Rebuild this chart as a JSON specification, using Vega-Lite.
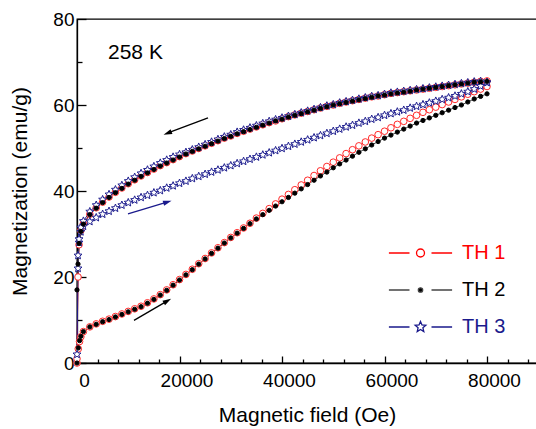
{
"$schema": "https://vega.github.io/schema/vega-lite/v6.json",
"width": 460, "height": 344,
"autosize": "none",
"padding": {"left": 77, "top": 19, "right": 0, "bottom": 66},
"config": {"view": {"stroke": "#000", "strokeWidth": 1.3}, "font": "Liberation Sans"},
"datasets": {
"pts": [
{"s":"TH 1","b":"a","h":0,"m":0},{"s":"TH 1","b":"a","h":250,"m":3.3},{"s":"TH 1","b":"a","h":500,"m":5.0},{"s":"TH 1","b":"a","h":750,"m":6.1},{"s":"TH 1","b":"a","h":1250,"m":7.3},{"s":"TH 1","b":"a","h":2500,"m":8.4},{"s":"TH 1","b":"a","h":3750,"m":9.1},{"s":"TH 1","b":"a","h":5000,"m":9.7},{"s":"TH 1","b":"a","h":6250,"m":10.2},{"s":"TH 1","b":"a","h":7500,"m":10.8},{"s":"TH 1","b":"a","h":8750,"m":11.4},{"s":"TH 1","b":"a","h":10000,"m":12.0},{"s":"TH 1","b":"a","h":11250,"m":12.6},{"s":"TH 1","b":"a","h":12500,"m":13.2},{"s":"TH 1","b":"a","h":13750,"m":14.0},{"s":"TH 1","b":"a","h":15000,"m":14.9},{"s":"TH 1","b":"a","h":16250,"m":15.9},{"s":"TH 1","b":"a","h":17500,"m":17.0},{"s":"TH 1","b":"a","h":18750,"m":18.2},{"s":"TH 1","b":"a","h":20000,"m":19.4},{"s":"TH 1","b":"a","h":21250,"m":20.6},{"s":"TH 1","b":"a","h":22500,"m":21.8},{"s":"TH 1","b":"a","h":23750,"m":23.1},{"s":"TH 1","b":"a","h":25000,"m":24.3},{"s":"TH 1","b":"a","h":26250,"m":25.6},{"s":"TH 1","b":"a","h":27500,"m":26.8},{"s":"TH 1","b":"a","h":28750,"m":28.0},{"s":"TH 1","b":"a","h":30000,"m":29.2},{"s":"TH 1","b":"a","h":31250,"m":30.3},{"s":"TH 1","b":"a","h":32500,"m":31.4},{"s":"TH 1","b":"a","h":33750,"m":32.5},{"s":"TH 1","b":"a","h":35000,"m":33.7},{"s":"TH 1","b":"a","h":36250,"m":34.8},{"s":"TH 1","b":"a","h":37500,"m":35.9},{"s":"TH 1","b":"a","h":38750,"m":37.0},{"s":"TH 1","b":"a","h":40000,"m":38.1},{"s":"TH 1","b":"a","h":41250,"m":39.2},{"s":"TH 1","b":"a","h":42500,"m":40.3},{"s":"TH 1","b":"a","h":43750,"m":41.4},{"s":"TH 1","b":"a","h":45000,"m":42.5},{"s":"TH 1","b":"a","h":46250,"m":43.6},{"s":"TH 1","b":"a","h":47500,"m":44.7},{"s":"TH 1","b":"a","h":48750,"m":45.7},{"s":"TH 1","b":"a","h":50000,"m":46.7},{"s":"TH 1","b":"a","h":51250,"m":47.7},{"s":"TH 1","b":"a","h":52500,"m":48.7},{"s":"TH 1","b":"a","h":53750,"m":49.6},{"s":"TH 1","b":"a","h":55000,"m":50.5},{"s":"TH 1","b":"a","h":56250,"m":51.4},{"s":"TH 1","b":"a","h":57500,"m":52.3},{"s":"TH 1","b":"a","h":58750,"m":53.1},{"s":"TH 1","b":"a","h":60000,"m":53.9},{"s":"TH 1","b":"a","h":61250,"m":54.7},{"s":"TH 1","b":"a","h":62500,"m":55.5},{"s":"TH 1","b":"a","h":63750,"m":56.2},{"s":"TH 1","b":"a","h":65000,"m":56.9},{"s":"TH 1","b":"a","h":66250,"m":57.6},{"s":"TH 1","b":"a","h":67500,"m":58.3},{"s":"TH 1","b":"a","h":68750,"m":58.9},{"s":"TH 1","b":"a","h":70000,"m":59.5},{"s":"TH 1","b":"a","h":71250,"m":60.1},{"s":"TH 1","b":"a","h":72500,"m":60.7},{"s":"TH 1","b":"a","h":73750,"m":61.3},{"s":"TH 1","b":"a","h":75000,"m":61.9},{"s":"TH 1","b":"a","h":76250,"m":62.5},{"s":"TH 1","b":"a","h":77500,"m":63.1},{"s":"TH 1","b":"a","h":78750,"m":63.7},{"s":"TH 1","b":"a","h":80000,"m":64.3},
{"s":"TH 1","b":"d","h":80000,"m":65.6},{"s":"TH 1","b":"d","h":78750,"m":65.5},{"s":"TH 1","b":"d","h":77500,"m":65.3},{"s":"TH 1","b":"d","h":76250,"m":65.1},{"s":"TH 1","b":"d","h":75000,"m":64.9},{"s":"TH 1","b":"d","h":73750,"m":64.7},{"s":"TH 1","b":"d","h":72500,"m":64.5},{"s":"TH 1","b":"d","h":71250,"m":64.3},{"s":"TH 1","b":"d","h":70000,"m":64.1},{"s":"TH 1","b":"d","h":68750,"m":63.9},{"s":"TH 1","b":"d","h":67500,"m":63.7},{"s":"TH 1","b":"d","h":66250,"m":63.5},{"s":"TH 1","b":"d","h":65000,"m":63.3},{"s":"TH 1","b":"d","h":63750,"m":63.1},{"s":"TH 1","b":"d","h":62500,"m":62.9},{"s":"TH 1","b":"d","h":61250,"m":62.7},{"s":"TH 1","b":"d","h":60000,"m":62.4},{"s":"TH 1","b":"d","h":58750,"m":62.1},{"s":"TH 1","b":"d","h":57500,"m":61.9},{"s":"TH 1","b":"d","h":56250,"m":61.6},{"s":"TH 1","b":"d","h":55000,"m":61.3},{"s":"TH 1","b":"d","h":53750,"m":61.0},{"s":"TH 1","b":"d","h":52500,"m":60.7},{"s":"TH 1","b":"d","h":51250,"m":60.4},{"s":"TH 1","b":"d","h":50000,"m":60.0},{"s":"TH 1","b":"d","h":48750,"m":59.7},{"s":"TH 1","b":"d","h":47500,"m":59.3},{"s":"TH 1","b":"d","h":46250,"m":58.9},{"s":"TH 1","b":"d","h":45000,"m":58.5},{"s":"TH 1","b":"d","h":43750,"m":58.1},{"s":"TH 1","b":"d","h":42500,"m":57.7},{"s":"TH 1","b":"d","h":41250,"m":57.3},{"s":"TH 1","b":"d","h":40000,"m":56.8},{"s":"TH 1","b":"d","h":38750,"m":56.3},{"s":"TH 1","b":"d","h":37500,"m":55.9},{"s":"TH 1","b":"d","h":36250,"m":55.4},{"s":"TH 1","b":"d","h":35000,"m":54.9},{"s":"TH 1","b":"d","h":33750,"m":54.4},{"s":"TH 1","b":"d","h":32500,"m":53.9},{"s":"TH 1","b":"d","h":31250,"m":53.4},{"s":"TH 1","b":"d","h":30000,"m":52.8},{"s":"TH 1","b":"d","h":28750,"m":52.3},{"s":"TH 1","b":"d","h":27500,"m":51.7},{"s":"TH 1","b":"d","h":26250,"m":51.1},{"s":"TH 1","b":"d","h":25000,"m":50.5},{"s":"TH 1","b":"d","h":23750,"m":49.9},{"s":"TH 1","b":"d","h":22500,"m":49.3},{"s":"TH 1","b":"d","h":21250,"m":48.7},{"s":"TH 1","b":"d","h":20000,"m":48.0},{"s":"TH 1","b":"d","h":18750,"m":47.3},{"s":"TH 1","b":"d","h":17500,"m":46.6},{"s":"TH 1","b":"d","h":16250,"m":45.9},{"s":"TH 1","b":"d","h":15000,"m":45.1},{"s":"TH 1","b":"d","h":13750,"m":44.3},{"s":"TH 1","b":"d","h":12500,"m":43.5},{"s":"TH 1","b":"d","h":11250,"m":42.6},{"s":"TH 1","b":"d","h":10000,"m":41.7},{"s":"TH 1","b":"d","h":8750,"m":40.7},{"s":"TH 1","b":"d","h":7500,"m":39.7},{"s":"TH 1","b":"d","h":6250,"m":38.6},{"s":"TH 1","b":"d","h":5000,"m":37.4},{"s":"TH 1","b":"d","h":3750,"m":36.1},{"s":"TH 1","b":"d","h":2500,"m":34.6},{"s":"TH 1","b":"d","h":1250,"m":32.4},{"s":"TH 1","b":"d","h":750,"m":30.8},{"s":"TH 1","b":"d","h":400,"m":27.5},{"s":"TH 1","b":"d","h":200,"m":20},{"s":"TH 1","b":"d","h":0,"m":1},
{"s":"TH 3","b":"a","h":0,"m":2},{"s":"TH 3","b":"a","h":200,"m":22},{"s":"TH 3","b":"a","h":400,"m":28},{"s":"TH 3","b":"a","h":750,"m":30.5},{"s":"TH 3","b":"a","h":1250,"m":31.8},{"s":"TH 3","b":"a","h":2500,"m":32.9},{"s":"TH 3","b":"a","h":3750,"m":33.8},{"s":"TH 3","b":"a","h":5000,"m":34.6},{"s":"TH 3","b":"a","h":6250,"m":35.3},{"s":"TH 3","b":"a","h":7500,"m":36.0},{"s":"TH 3","b":"a","h":8750,"m":36.7},{"s":"TH 3","b":"a","h":10000,"m":37.3},{"s":"TH 3","b":"a","h":11250,"m":37.9},{"s":"TH 3","b":"a","h":12500,"m":38.5},{"s":"TH 3","b":"a","h":13750,"m":39.0},{"s":"TH 3","b":"a","h":15000,"m":39.6},{"s":"TH 3","b":"a","h":16250,"m":40.1},{"s":"TH 3","b":"a","h":17500,"m":40.7},{"s":"TH 3","b":"a","h":18750,"m":41.2},{"s":"TH 3","b":"a","h":20000,"m":41.8},{"s":"TH 3","b":"a","h":21250,"m":42.3},{"s":"TH 3","b":"a","h":22500,"m":42.9},{"s":"TH 3","b":"a","h":23750,"m":43.4},{"s":"TH 3","b":"a","h":25000,"m":43.9},{"s":"TH 3","b":"a","h":26250,"m":44.4},{"s":"TH 3","b":"a","h":27500,"m":44.9},{"s":"TH 3","b":"a","h":28750,"m":45.4},{"s":"TH 3","b":"a","h":30000,"m":45.9},{"s":"TH 3","b":"a","h":31250,"m":46.4},{"s":"TH 3","b":"a","h":32500,"m":46.9},{"s":"TH 3","b":"a","h":33750,"m":47.4},{"s":"TH 3","b":"a","h":35000,"m":47.9},{"s":"TH 3","b":"a","h":36250,"m":48.4},{"s":"TH 3","b":"a","h":37500,"m":48.9},{"s":"TH 3","b":"a","h":38750,"m":49.4},{"s":"TH 3","b":"a","h":40000,"m":49.9},{"s":"TH 3","b":"a","h":41250,"m":50.4},{"s":"TH 3","b":"a","h":42500,"m":50.9},{"s":"TH 3","b":"a","h":43750,"m":51.4},{"s":"TH 3","b":"a","h":45000,"m":51.9},{"s":"TH 3","b":"a","h":46250,"m":52.4},{"s":"TH 3","b":"a","h":47500,"m":52.9},{"s":"TH 3","b":"a","h":48750,"m":53.4},{"s":"TH 3","b":"a","h":50000,"m":53.9},{"s":"TH 3","b":"a","h":51250,"m":54.4},{"s":"TH 3","b":"a","h":52500,"m":54.9},{"s":"TH 3","b":"a","h":53750,"m":55.3},{"s":"TH 3","b":"a","h":55000,"m":55.8},{"s":"TH 3","b":"a","h":56250,"m":56.2},{"s":"TH 3","b":"a","h":57500,"m":56.7},{"s":"TH 3","b":"a","h":58750,"m":57.1},{"s":"TH 3","b":"a","h":60000,"m":57.6},{"s":"TH 3","b":"a","h":61250,"m":58.0},{"s":"TH 3","b":"a","h":62500,"m":58.4},{"s":"TH 3","b":"a","h":63750,"m":58.8},{"s":"TH 3","b":"a","h":65000,"m":59.3},{"s":"TH 3","b":"a","h":66250,"m":59.7},{"s":"TH 3","b":"a","h":67500,"m":60.1},{"s":"TH 3","b":"a","h":68750,"m":60.5},{"s":"TH 3","b":"a","h":70000,"m":60.9},{"s":"TH 3","b":"a","h":71250,"m":61.3},{"s":"TH 3","b":"a","h":72500,"m":61.7},{"s":"TH 3","b":"a","h":73750,"m":62.1},{"s":"TH 3","b":"a","h":75000,"m":62.6},{"s":"TH 3","b":"a","h":76250,"m":63.1},{"s":"TH 3","b":"a","h":77500,"m":63.7},{"s":"TH 3","b":"a","h":78750,"m":64.4},{"s":"TH 3","b":"a","h":80000,"m":65.2},
{"s":"TH 3","b":"d","h":80000,"m":65.3},{"s":"TH 3","b":"d","h":78750,"m":65.5},{"s":"TH 3","b":"d","h":77500,"m":65.4},{"s":"TH 3","b":"d","h":76250,"m":65.2},{"s":"TH 3","b":"d","h":75000,"m":65.0},{"s":"TH 3","b":"d","h":73750,"m":64.8},{"s":"TH 3","b":"d","h":72500,"m":64.6},{"s":"TH 3","b":"d","h":71250,"m":64.4},{"s":"TH 3","b":"d","h":70000,"m":64.2},{"s":"TH 3","b":"d","h":68750,"m":64.0},{"s":"TH 3","b":"d","h":67500,"m":63.8},{"s":"TH 3","b":"d","h":66250,"m":63.6},{"s":"TH 3","b":"d","h":65000,"m":63.4},{"s":"TH 3","b":"d","h":63750,"m":63.2},{"s":"TH 3","b":"d","h":62500,"m":63.0},{"s":"TH 3","b":"d","h":61250,"m":62.8},{"s":"TH 3","b":"d","h":60000,"m":62.5},{"s":"TH 3","b":"d","h":58750,"m":62.2},{"s":"TH 3","b":"d","h":57500,"m":62.0},{"s":"TH 3","b":"d","h":56250,"m":61.7},{"s":"TH 3","b":"d","h":55000,"m":61.4},{"s":"TH 3","b":"d","h":53750,"m":61.1},{"s":"TH 3","b":"d","h":52500,"m":60.8},{"s":"TH 3","b":"d","h":51250,"m":60.5},{"s":"TH 3","b":"d","h":50000,"m":60.1},{"s":"TH 3","b":"d","h":48750,"m":59.8},{"s":"TH 3","b":"d","h":47500,"m":59.4},{"s":"TH 3","b":"d","h":46250,"m":59.0},{"s":"TH 3","b":"d","h":45000,"m":58.6},{"s":"TH 3","b":"d","h":43750,"m":58.2},{"s":"TH 3","b":"d","h":42500,"m":57.8},{"s":"TH 3","b":"d","h":41250,"m":57.4},{"s":"TH 3","b":"d","h":40000,"m":57.0},{"s":"TH 3","b":"d","h":38750,"m":56.6},{"s":"TH 3","b":"d","h":37500,"m":56.2},{"s":"TH 3","b":"d","h":36250,"m":55.7},{"s":"TH 3","b":"d","h":35000,"m":55.2},{"s":"TH 3","b":"d","h":33750,"m":54.7},{"s":"TH 3","b":"d","h":32500,"m":54.2},{"s":"TH 3","b":"d","h":31250,"m":53.7},{"s":"TH 3","b":"d","h":30000,"m":53.1},{"s":"TH 3","b":"d","h":28750,"m":52.6},{"s":"TH 3","b":"d","h":27500,"m":52.0},{"s":"TH 3","b":"d","h":26250,"m":51.4},{"s":"TH 3","b":"d","h":25000,"m":50.8},{"s":"TH 3","b":"d","h":23750,"m":50.2},{"s":"TH 3","b":"d","h":22500,"m":49.6},{"s":"TH 3","b":"d","h":21250,"m":49.0},{"s":"TH 3","b":"d","h":20000,"m":48.5},{"s":"TH 3","b":"d","h":18750,"m":47.9},{"s":"TH 3","b":"d","h":17500,"m":47.2},{"s":"TH 3","b":"d","h":16250,"m":46.5},{"s":"TH 3","b":"d","h":15000,"m":45.7},{"s":"TH 3","b":"d","h":13750,"m":44.9},{"s":"TH 3","b":"d","h":12500,"m":44.1},{"s":"TH 3","b":"d","h":11250,"m":43.2},{"s":"TH 3","b":"d","h":10000,"m":42.3},{"s":"TH 3","b":"d","h":8750,"m":41.3},{"s":"TH 3","b":"d","h":7500,"m":40.3},{"s":"TH 3","b":"d","h":6250,"m":39.2},{"s":"TH 3","b":"d","h":5000,"m":38.0},{"s":"TH 3","b":"d","h":3750,"m":36.7},{"s":"TH 3","b":"d","h":2500,"m":35.2},{"s":"TH 3","b":"d","h":1250,"m":33.0},{"s":"TH 3","b":"d","h":750,"m":31.5},{"s":"TH 3","b":"d","h":400,"m":28.8},{"s":"TH 3","b":"d","h":200,"m":25},
{"s":"TH 2","b":"a","h":0,"m":0},{"s":"TH 2","b":"a","h":250,"m":3.5},{"s":"TH 2","b":"a","h":500,"m":5.2},{"s":"TH 2","b":"a","h":750,"m":6.2},{"s":"TH 2","b":"a","h":1250,"m":7.3},{"s":"TH 2","b":"a","h":2500,"m":8.4},{"s":"TH 2","b":"a","h":3750,"m":9.0},{"s":"TH 2","b":"a","h":5000,"m":9.6},{"s":"TH 2","b":"a","h":6250,"m":10.1},{"s":"TH 2","b":"a","h":7500,"m":10.7},{"s":"TH 2","b":"a","h":8750,"m":11.3},{"s":"TH 2","b":"a","h":10000,"m":11.9},{"s":"TH 2","b":"a","h":11250,"m":12.5},{"s":"TH 2","b":"a","h":12500,"m":13.1},{"s":"TH 2","b":"a","h":13750,"m":13.9},{"s":"TH 2","b":"a","h":15000,"m":14.8},{"s":"TH 2","b":"a","h":16250,"m":15.8},{"s":"TH 2","b":"a","h":17500,"m":16.9},{"s":"TH 2","b":"a","h":18750,"m":18.1},{"s":"TH 2","b":"a","h":20000,"m":19.3},{"s":"TH 2","b":"a","h":21250,"m":20.5},{"s":"TH 2","b":"a","h":22500,"m":21.7},{"s":"TH 2","b":"a","h":23750,"m":23.0},{"s":"TH 2","b":"a","h":25000,"m":24.2},{"s":"TH 2","b":"a","h":26250,"m":25.5},{"s":"TH 2","b":"a","h":27500,"m":26.7},{"s":"TH 2","b":"a","h":28750,"m":27.9},{"s":"TH 2","b":"a","h":30000,"m":29.1},{"s":"TH 2","b":"a","h":31250,"m":30.2},{"s":"TH 2","b":"a","h":32500,"m":31.3},{"s":"TH 2","b":"a","h":33750,"m":32.4},{"s":"TH 2","b":"a","h":35000,"m":33.5},{"s":"TH 2","b":"a","h":36250,"m":34.5},{"s":"TH 2","b":"a","h":37500,"m":35.5},{"s":"TH 2","b":"a","h":38750,"m":36.5},{"s":"TH 2","b":"a","h":40000,"m":37.5},{"s":"TH 2","b":"a","h":41250,"m":38.5},{"s":"TH 2","b":"a","h":42500,"m":39.5},{"s":"TH 2","b":"a","h":43750,"m":40.5},{"s":"TH 2","b":"a","h":45000,"m":41.5},{"s":"TH 2","b":"a","h":46250,"m":42.5},{"s":"TH 2","b":"a","h":47500,"m":43.5},{"s":"TH 2","b":"a","h":48750,"m":44.4},{"s":"TH 2","b":"a","h":50000,"m":45.4},{"s":"TH 2","b":"a","h":51250,"m":46.3},{"s":"TH 2","b":"a","h":52500,"m":47.2},{"s":"TH 2","b":"a","h":53750,"m":48.1},{"s":"TH 2","b":"a","h":55000,"m":49.0},{"s":"TH 2","b":"a","h":56250,"m":49.8},{"s":"TH 2","b":"a","h":57500,"m":50.7},{"s":"TH 2","b":"a","h":58750,"m":51.5},{"s":"TH 2","b":"a","h":60000,"m":52.3},{"s":"TH 2","b":"a","h":61250,"m":53.0},{"s":"TH 2","b":"a","h":62500,"m":53.7},{"s":"TH 2","b":"a","h":63750,"m":54.4},{"s":"TH 2","b":"a","h":65000,"m":55.1},{"s":"TH 2","b":"a","h":66250,"m":55.8},{"s":"TH 2","b":"a","h":67500,"m":56.4},{"s":"TH 2","b":"a","h":68750,"m":57.0},{"s":"TH 2","b":"a","h":70000,"m":57.6},{"s":"TH 2","b":"a","h":71250,"m":58.2},{"s":"TH 2","b":"a","h":72500,"m":58.8},{"s":"TH 2","b":"a","h":73750,"m":59.4},{"s":"TH 2","b":"a","h":75000,"m":60.0},{"s":"TH 2","b":"a","h":76250,"m":60.7},{"s":"TH 2","b":"a","h":77500,"m":61.4},{"s":"TH 2","b":"a","h":78750,"m":62.0},{"s":"TH 2","b":"a","h":80000,"m":62.6},
{"s":"TH 2","b":"d","h":80000,"m":65.5},{"s":"TH 2","b":"d","h":78750,"m":65.4},{"s":"TH 2","b":"d","h":77500,"m":65.3},{"s":"TH 2","b":"d","h":76250,"m":65.1},{"s":"TH 2","b":"d","h":75000,"m":64.9},{"s":"TH 2","b":"d","h":73750,"m":64.7},{"s":"TH 2","b":"d","h":72500,"m":64.5},{"s":"TH 2","b":"d","h":71250,"m":64.3},{"s":"TH 2","b":"d","h":70000,"m":64.1},{"s":"TH 2","b":"d","h":68750,"m":63.9},{"s":"TH 2","b":"d","h":67500,"m":63.7},{"s":"TH 2","b":"d","h":66250,"m":63.5},{"s":"TH 2","b":"d","h":65000,"m":63.2},{"s":"TH 2","b":"d","h":63750,"m":63.0},{"s":"TH 2","b":"d","h":62500,"m":62.8},{"s":"TH 2","b":"d","h":61250,"m":62.6},{"s":"TH 2","b":"d","h":60000,"m":62.3},{"s":"TH 2","b":"d","h":58750,"m":62.1},{"s":"TH 2","b":"d","h":57500,"m":61.8},{"s":"TH 2","b":"d","h":56250,"m":61.5},{"s":"TH 2","b":"d","h":55000,"m":61.2},{"s":"TH 2","b":"d","h":53750,"m":60.9},{"s":"TH 2","b":"d","h":52500,"m":60.6},{"s":"TH 2","b":"d","h":51250,"m":60.3},{"s":"TH 2","b":"d","h":50000,"m":60.0},{"s":"TH 2","b":"d","h":48750,"m":59.6},{"s":"TH 2","b":"d","h":47500,"m":59.2},{"s":"TH 2","b":"d","h":46250,"m":58.8},{"s":"TH 2","b":"d","h":45000,"m":58.4},{"s":"TH 2","b":"d","h":43750,"m":58.0},{"s":"TH 2","b":"d","h":42500,"m":57.6},{"s":"TH 2","b":"d","h":41250,"m":57.2},{"s":"TH 2","b":"d","h":40000,"m":56.7},{"s":"TH 2","b":"d","h":38750,"m":56.3},{"s":"TH 2","b":"d","h":37500,"m":55.8},{"s":"TH 2","b":"d","h":36250,"m":55.3},{"s":"TH 2","b":"d","h":35000,"m":54.8},{"s":"TH 2","b":"d","h":33750,"m":54.3},{"s":"TH 2","b":"d","h":32500,"m":53.8},{"s":"TH 2","b":"d","h":31250,"m":53.3},{"s":"TH 2","b":"d","h":30000,"m":52.7},{"s":"TH 2","b":"d","h":28750,"m":52.2},{"s":"TH 2","b":"d","h":27500,"m":51.6},{"s":"TH 2","b":"d","h":26250,"m":51.0},{"s":"TH 2","b":"d","h":25000,"m":50.4},{"s":"TH 2","b":"d","h":23750,"m":49.8},{"s":"TH 2","b":"d","h":22500,"m":49.2},{"s":"TH 2","b":"d","h":21250,"m":48.6},{"s":"TH 2","b":"d","h":20000,"m":47.9},{"s":"TH 2","b":"d","h":18750,"m":47.2},{"s":"TH 2","b":"d","h":17500,"m":46.5},{"s":"TH 2","b":"d","h":16250,"m":45.8},{"s":"TH 2","b":"d","h":15000,"m":45.0},{"s":"TH 2","b":"d","h":13750,"m":44.2},{"s":"TH 2","b":"d","h":12500,"m":43.4},{"s":"TH 2","b":"d","h":11250,"m":42.5},{"s":"TH 2","b":"d","h":10000,"m":41.6},{"s":"TH 2","b":"d","h":8750,"m":40.6},{"s":"TH 2","b":"d","h":7500,"m":39.6},{"s":"TH 2","b":"d","h":6250,"m":38.5},{"s":"TH 2","b":"d","h":5000,"m":37.3},{"s":"TH 2","b":"d","h":3750,"m":36.0},{"s":"TH 2","b":"d","h":2500,"m":34.5},{"s":"TH 2","b":"d","h":1250,"m":32.3},{"s":"TH 2","b":"d","h":750,"m":30.6},{"s":"TH 2","b":"d","h":400,"m":27.8},{"s":"TH 2","b":"d","h":200,"m":23},{"s":"TH 2","b":"d","h":0,"m":17}
],
"arr": [
{"k":"down","h1":25560,"m1":57.0,"h2":17750,"m2":53.5,"a":249},
{"k":"TH 3","h1":9950,"m1":34.7,"h2":17560,"m2":37.4,"a":73},
{"k":"up","h1":11120,"m1":9.9,"h2":17560,"m2":14.4,"a":60}
],
"lab": [{"t":"258 K","h":6050,"m":72.1}]
},
"layer": [
{
"data": {"name": "pts"},
"mark": {"type": "line", "strokeWidth": 1},
"encoding": {
"x": {"field": "h", "type": "quantitative", "scale": {"domain": [0, 89750], "nice": false, "zero": false},
"axis": {"values": [0, 20000, 40000, 60000, 80000], "format": "d", "title": "Magnetic field (Oe)", "grid": false, "orient": "bottom",
"tickSize": -7, "tickWidth": 1.3, "tickColor": "#000", "domainColor": "#000", "domainWidth": 1.3,
"labelPadding": 15, "labelFlush": false, "labelOffset": 7, "labelFont": "Liberation Sans", "labelFontSize": 19, "labelColor": "#000",
"titleFont": "Liberation Sans", "titleFontSize": 21, "titleFontWeight": "normal", "titleColor": "#000", "titlePadding": 14}},
"y": {"field": "m", "type": "quantitative", "scale": {"domain": [0, 80], "nice": false},
"axis": {"values": [0, 20, 40, 60, 80], "title": "Magnetization (emu/g)", "grid": false, "orient": "left",
"tickSize": -9, "tickWidth": 1.3, "tickColor": "#000", "domainColor": "#000", "domainWidth": 1.3,
"labelPadding": 12, "labelFlush": false, "labelFont": "Liberation Sans", "labelFontSize": 19, "labelColor": "#000",
"titleFont": "Liberation Sans", "titleFontSize": 21, "titleFontWeight": "normal", "titleColor": "#000", "titlePadding": 22}},
"color": {"field": "s", "type": "nominal", "scale": {"domain": ["TH 1", "TH 2", "TH 3"], "range": ["#ff0000", "#444444", "#1a1a8c"]},
"legend": {"orient": "none", "legendX": 333.5, "legendY": 224, "title": null, "padding": 0,
"symbolSize": 64, "symbolStrokeWidth": 1.3, "labelFont": "Liberation Sans", "labelFontSize": 20, "labelOffset": 31.5, "rowPadding": 17, "labelLimit": 200,
"encoding": {
"symbols": {"shape": {"value": {"expr": "datum.value==='TH 1'?'M-7.9,0L-2.75,0M2.75,0L7.9,0M-1,0A1,1 0 1,0 1,0A1,1 0 1,0 -1,0Z':datum.value==='TH 2'?'M-7.9,0L-2.75,0M2.75,0L7.9,0M-0.55,0A0.55,0.55 0 1,0 0.55,0A0.55,0.55 0 1,0 -0.55,0Z':'M-7.9,0L-2.75,0M2.75,0L7.9,0M0,-1.4L0.37,-0.51L1.33,-0.43L0.6,0.19L0.82,1.13L0,0.63L-0.82,1.13L-0.6,0.19L-1.33,-0.43L-0.37,-0.51Z'"}},
"fill": {"value": {"expr": "datum.value==='TH 2'?'#000':'#fff'"}},
"size": {"value": 64},
"strokeWidth": {"value": 1.3}},
"labels": {"fill": {"value": {"expr": "datum.value==='TH 1'?'#ff0000':datum.value==='TH 2'?'#000':'#1a1a8c'"}}}
}}},
"detail": {"field": "b"}
}
},
{
"data": {"name": "pts"},
"mark": {"type": "point", "strokeWidth": 1, "opacity": 1},
"encoding": {
"x": {"field": "h", "type": "quantitative", "axis": null},
"y": {"field": "m", "type": "quantitative", "axis": null},
"shape": {"field": "s", "type": "nominal", "scale": {"domain": ["TH 3", "TH 1", "TH 2"], "range": ["M0,-1L0.265,-0.364L0.951,-0.309L0.428,0.139L0.588,0.809L0,0.45L-0.588,0.809L-0.428,0.139L-0.951,-0.309L-0.265,-0.364Z", "circle", "circle"]}, "legend": null},
"size": {"field": "s", "type": "nominal", "scale": {"type": "ordinal", "domain": ["TH 3", "TH 1", "TH 2"], "range": [70, 44, 18]}, "legend": null},
"fill": {"field": "s", "type": "nominal", "scale": {"domain": ["TH 3", "TH 1", "TH 2"], "range": ["#ffffff", "#ffffff", "#000000"]}, "legend": null},
"stroke": {"field": "s", "type": "nominal", "scale": {"domain": ["TH 3", "TH 1", "TH 2"], "range": ["#1f1f8f", "#ff2a2a", "#000000"]}, "legend": null}
}
},
{
"data": {"name": "lab"},
"mark": {"type": "text", "align": "left", "baseline": "middle", "font": "Liberation Sans", "fontSize": 21, "color": "#000"},
"encoding": {
"x": {"field": "h", "type": "quantitative", "axis": {"orient": "bottom", "values": [4000, 8000, 12000, 16000, 24000, 28000, 32000, 36000, 44000, 48000, 52000, 56000, 64000, 68000, 72000, 76000, 84000, 88000], "labels": false, "domain": false, "grid": false, "title": null, "tickSize": -4, "tickWidth": 1.3, "tickColor": "#000"}},
"y": {"field": "m", "type": "quantitative", "axis": {"orient": "left", "values": [10, 30, 50, 70], "labels": false, "domain": false, "grid": false, "title": null, "tickSize": -5, "tickWidth": 1.3, "tickColor": "#000"}},
"text": {"field": "t"}
}
},
{
"data": {"name": "arr"},
"mark": {"type": "rule", "strokeWidth": 1.3},
"encoding": {
"x": {"field": "h1", "type": "quantitative", "axis": null},
"y": {"field": "m1", "type": "quantitative", "axis": null},
"x2": {"field": "h2"},
"y2": {"field": "m2"},
"color": {"condition": {"test": "datum.k==='TH 3'", "value": "#1a1a8c"}, "value": "#000"}
}
},
{
"data": {"name": "arr"},
"mark": {"type": "point", "filled": true, "opacity": 1, "size": 90, "shape": "M0,-1L0.55,0.8L-0.55,0.8Z"},
"encoding": {
"x": {"field": "h2", "type": "quantitative", "axis": null},
"y": {"field": "m2", "type": "quantitative", "axis": null},
"angle": {"field": "a", "type": "quantitative", "scale": null},
"color": {"condition": {"test": "datum.k==='TH 3'", "value": "#1a1a8c"}, "value": "#000"}
}
}
],
"resolve": {"axis": {"x": "independent", "y": "independent"}}
}
